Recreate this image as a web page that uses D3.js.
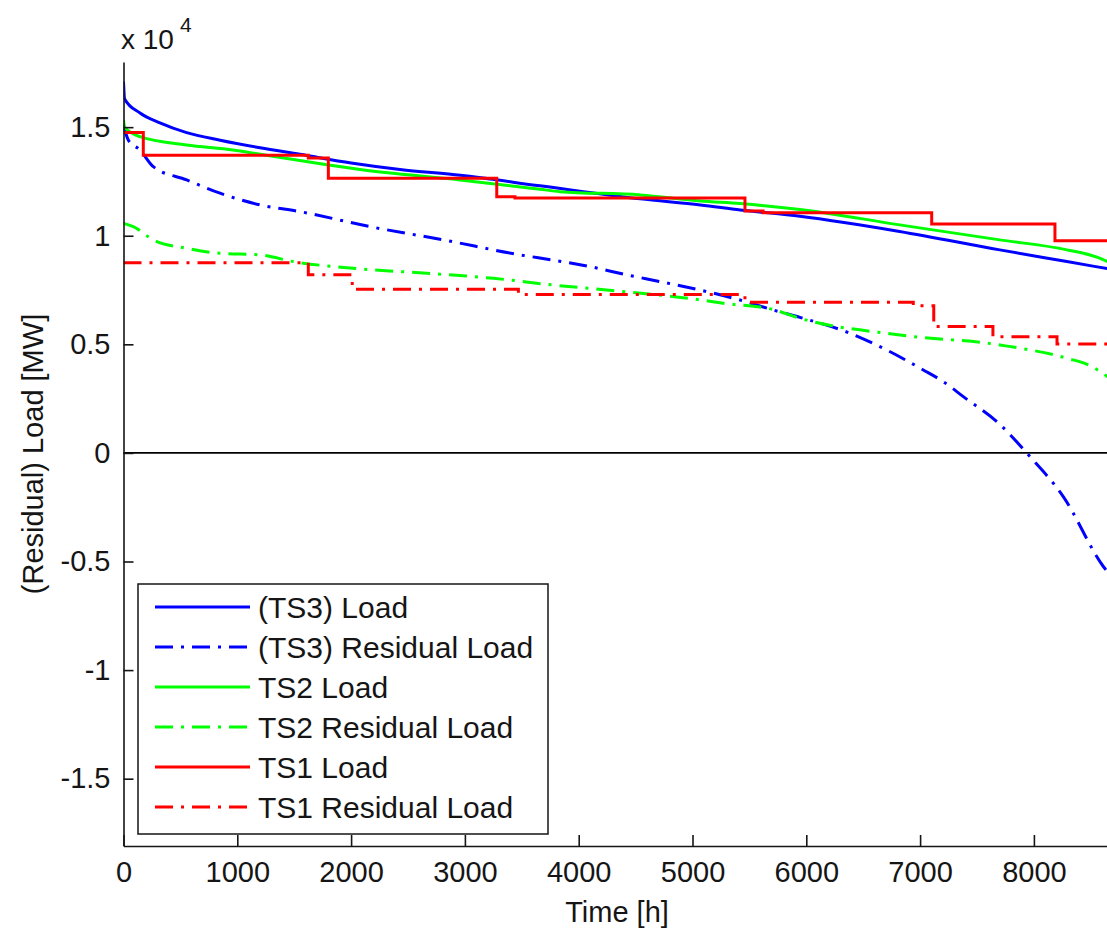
<!DOCTYPE html>
<html>
<head>
<meta charset="utf-8">
<script src="https://cdn.jsdelivr.net/npm/d3@7"></script>
<style>
  html, body { margin: 0; padding: 0; background: #fff; }
  svg { display: block; font-family: "Liberation Sans", Arial, Helvetica, sans-serif; }
</style>
</head>
<body>
<svg id="chart" width="1107" height="929"></svg>
<script>
// ---- Load duration curves (hours sorted by load, MW) ----
const ts3LoadHours = [0, 10, 145, 320, 555, 850, 1200, 1550, 2000, 2430, 2960, 3660, 4540, 5070, 5420, 5945, 6820, 7700, 8290, 8650];
const ts3LoadMW    = [17100, 16300, 15650, 15200, 14750, 14400, 14050, 13750, 13350, 13050, 12780, 12300, 11700, 11420, 11190, 10900, 10200, 9350, 8810, 8480];

const ts3ResHours = [0, 42, 145, 262, 555, 848, 1200, 1551, 2166, 2810, 3484, 3760, 4099, 4422, 4714, 5066, 5418, 5710, 5944, 6384, 6706, 7028, 7204, 7380, 7706, 7951, 8258, 8610, 8650];
const ts3ResMW    = [15100, 14410, 13950, 13180, 12570, 11960, 11420, 11110, 10420, 9810, 9120, 8890, 8580, 8200, 7890, 7500, 7040, 6580, 6240, 5510, 4740, 3820, 3280, 2590, 1290, -90, -2010, -5230, -5500];

const ts2LoadHours = [0, 10, 145, 555, 963, 1200, 1815, 2078, 2957, 3660, 3836, 4540, 5070, 5420, 5945, 6820, 7700, 8290, 8560, 8650];
const ts2LoadMW    = [15330, 15000, 14560, 14180, 13950, 13750, 13250, 13050, 12570, 12140, 12030, 11880, 11600, 11480, 11210, 10500, 9810, 9350, 9000, 8800];

const ts2ResHours = [0, 86, 262, 555, 848, 1200, 1492, 2019, 2664, 3250, 3777, 4246, 4831, 5066, 5271, 5710, 5944, 6823, 7702, 8288, 8500, 8650];
const ts2ResMW    = [10570, 10420, 9810, 9420, 9190, 9120, 8810, 8500, 8270, 8040, 7730, 7500, 7200, 7050, 6890, 6600, 6200, 5430, 4970, 4360, 4000, 3500];

// TS1 is a step profile: level holds from each start hour until the next one
const ts1LoadStart = [0, 174, 1624, 1800, 3280, 3440, 5461, 5620, 7102, 8185, 8760];
const ts1LoadMW    = [14750, 13710, 13580, 12650, 11800, 11740, 11140, 11060, 10540, 9770, 9770];

const ts1ResStart = [0, 1624, 2010, 3470, 5461, 6940, 7120, 7640, 8203, 8760];
const ts1ResMW    = [8760, 8200, 7540, 7300, 6940, 6780, 5820, 5350, 5020, 5020];

// axis ticks
const xTicks = [0, 1000, 2000, 3000, 4000, 5000, 6000, 7000, 8000];
const yTicks = [-15000, -10000, -5000, 0, 5000, 10000, 15000];
const yTickLabels = ["-1.5", "-1", "-0.5", "0", "0.5", "1", "1.5"];

const seriesNames = ["(TS3) Load", "(TS3) Residual Load", "TS2 Load", "TS2 Residual Load", "TS1 Load", "TS1 Residual Load"];

// ---- layout ----
const svg = d3.select("#chart");
const W = 1107, H = 929;
const plotLeft = 123.5, plotTop = 62, plotBottom = 846;
const x = d3.scaleLinear().domain([0, 8760]).range([plotLeft, plotLeft + 8.76 * 113.8]);
const y = d3.scaleLinear().domain([-18100, 18000]).range([plotBottom, plotTop]);

const BLUE = "#0000ff", GREEN = "#00ff00", RED = "#ff0000";
const DASHDOT = "18,8,3,8";
const LW = 3;
const INK = "#151515";

svg.append("rect").attr("width", W).attr("height", H).attr("fill", "#fff");

svg.append("defs").append("clipPath").attr("id", "plotClip")
  .append("rect").attr("x", plotLeft).attr("y", plotTop - 2)
  .attr("width", W - plotLeft).attr("height", plotBottom - plotTop + 2);

const zip = (hs, vs) => hs.map((h, i) => [h, vs[i]]);

const series = [
  { data: zip(ts3LoadHours, ts3LoadMW), color: BLUE, dash: null, step: false },
  { data: zip(ts3ResHours, ts3ResMW), color: BLUE, dash: DASHDOT, step: false },
  { data: zip(ts2LoadHours, ts2LoadMW), color: GREEN, dash: null, step: false },
  { data: zip(ts2ResHours, ts2ResMW), color: GREEN, dash: DASHDOT, step: false },
  { data: zip(ts1LoadStart, ts1LoadMW), color: RED, dash: null, step: true },
  { data: zip(ts1ResStart, ts1ResMW), color: RED, dash: DASHDOT, step: true }
];

// zero line
svg.append("line")
  .attr("x1", plotLeft).attr("x2", x(8760))
  .attr("y1", y(0)).attr("y2", y(0))
  .attr("stroke", "#000").attr("stroke-width", 1.6);

const plot = svg.append("g").attr("clip-path", "url(#plotClip)");
series.forEach(s => {
  const line = d3.line()
    .x(d => x(d[0])).y(d => y(d[1]))
    .curve(s.step ? d3.curveStepAfter : d3.curveMonotoneX);
  plot.append("path")
    .datum(s.data)
    .attr("d", line)
    .attr("fill", "none")
    .attr("stroke", s.color)
    .attr("stroke-width", LW)
    .attr("stroke-linejoin", "miter")
    .attr("stroke-dasharray", s.dash);
});

// ---- axes (left and bottom only, ticks pointing inward) ----
const xAxis = d3.axisBottom(x).tickValues(xTicks).tickFormat(d3.format("d"))
  .tickSizeInner(-11).tickSizeOuter(0).tickPadding(15);
const yAxis = d3.axisLeft(y).tickValues(yTicks).tickFormat(d => yTickLabels[yTicks.indexOf(d)])
  .tickSizeInner(-10).tickSizeOuter(0).tickPadding(13);

const gx = svg.append("g").attr("transform", `translate(0,${plotBottom})`).call(xAxis);
const gy = svg.append("g").attr("transform", `translate(${plotLeft},0)`).call(yAxis);
[gx, gy].forEach(g => {
  g.select(".domain").attr("stroke", INK).attr("stroke-width", 1.6);
  g.selectAll(".tick line").attr("stroke", INK).attr("stroke-width", 1.6);
  g.selectAll(".tick text").attr("fill", INK).attr("font-size", 29)
    .attr("font-family", "\"Liberation Sans\", Arial, sans-serif");
});

// exponent marker
svg.append("text").attr("x", 121).attr("y", 49).attr("font-size", 28).attr("fill", INK).text("x 10");
svg.append("text").attr("x", 180).attr("y", 32).attr("font-size", 21).attr("fill", INK).text("4");

// axis titles
svg.append("text")
  .attr("x", 617).attr("y", 922)
  .attr("text-anchor", "middle").attr("font-size", 29).attr("fill", INK)
  .text("Time [h]");
svg.append("text")
  .attr("transform", `translate(43,${(plotTop + plotBottom) / 2}) rotate(-90)`)
  .attr("text-anchor", "middle").attr("font-size", 29).attr("fill", INK)
  .text("(Residual) Load [MW]");

// ---- legend ----
const lg = svg.append("g");
lg.append("rect").attr("x", 138).attr("y", 584).attr("width", 410).attr("height", 250)
  .attr("fill", "#fff").attr("stroke", INK).attr("stroke-width", 1.5);
series.forEach((s, i) => {
  const ly = 607 + i * 40;
  lg.append("line").attr("x1", 155).attr("x2", 250).attr("y1", ly).attr("y2", ly)
    .attr("stroke", s.color).attr("stroke-width", LW).attr("stroke-dasharray", s.dash);
  lg.append("text").attr("x", 258).attr("y", ly).attr("dy", "0.36em")
    .attr("font-size", 30).attr("fill", INK).text(seriesNames[i]);
});
</script>
</body>
</html>
